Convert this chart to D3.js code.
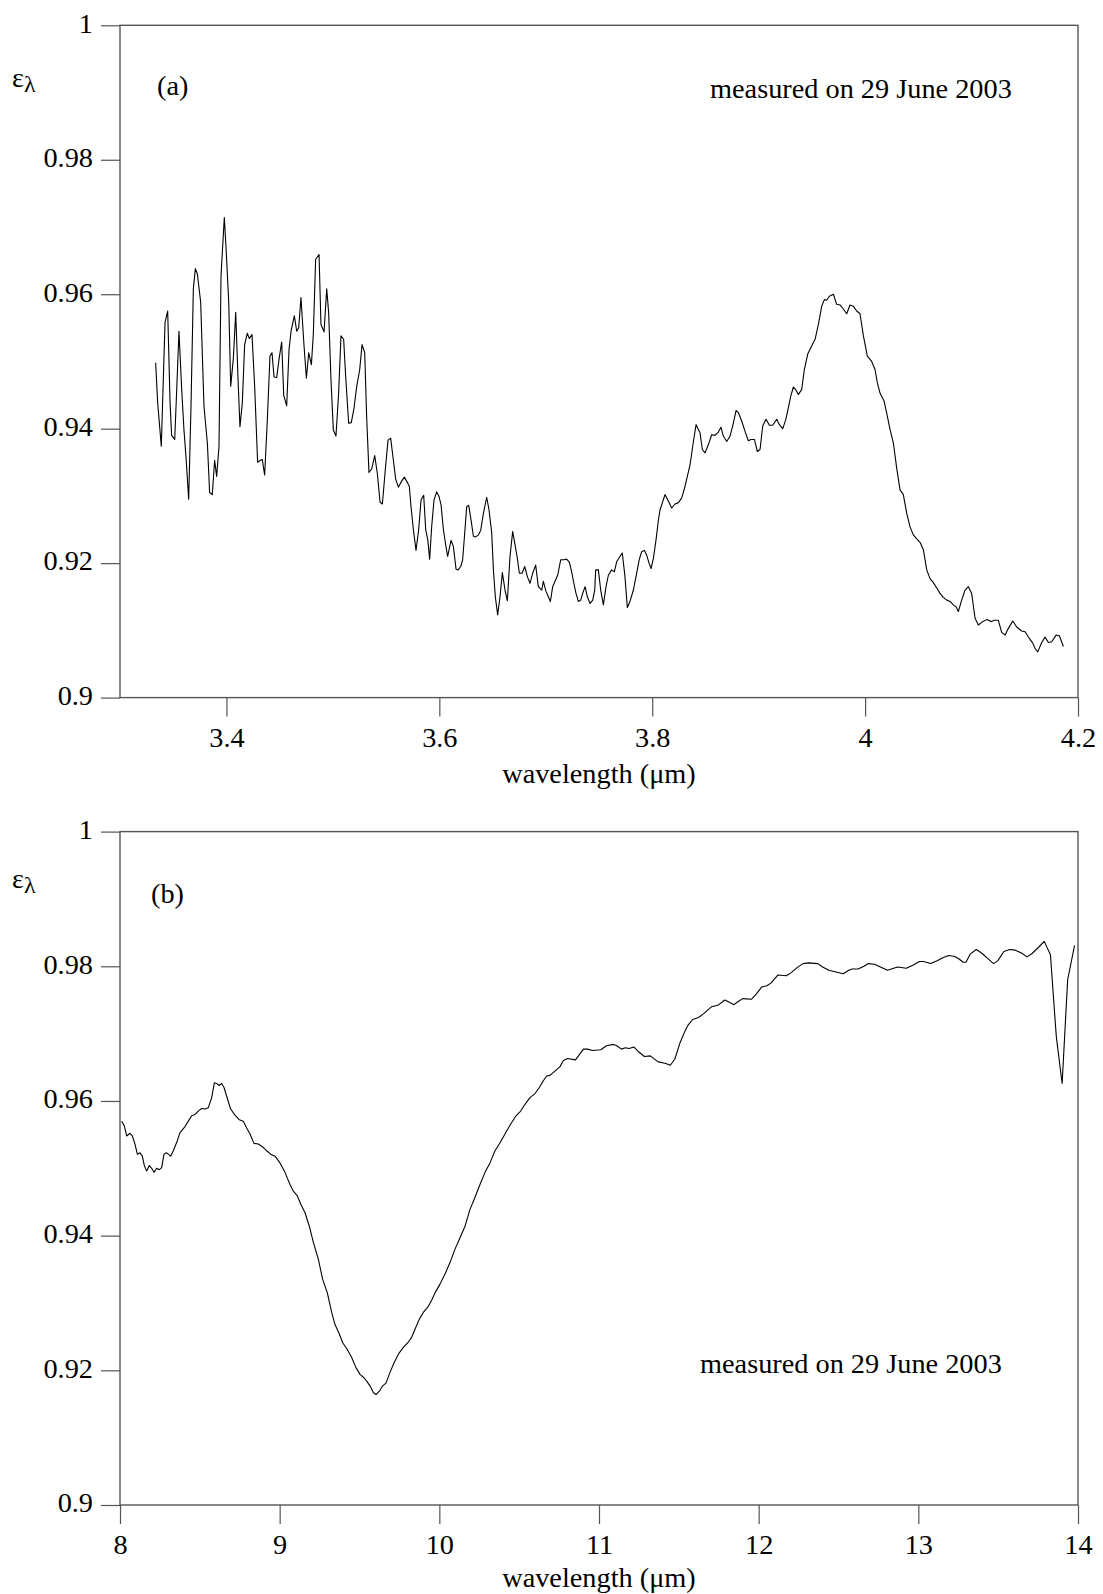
<!DOCTYPE html>
<html>
<head>
<meta charset="utf-8">
<script src="https://cdn.jsdelivr.net/npm/d3@7"></script>
<style>
  html, body { margin: 0; padding: 0; background: #fff; }
  svg { display: block; }
  text { font-family: "Liberation Serif", "Times New Roman", serif; fill: #000; }
</style>
</head>
<body>
<svg id="chart" width="1103" height="1594"></svg>
<script>
// ---------- data ----------
const yTicks = [0.9, 0.92, 0.94, 0.96, 0.98, 1];
const yTickLabels = ["0.9", "0.92", "0.94", "0.96", "0.98", "1"];
const xTicksA = [3.4, 3.6, 3.8, 4.0, 4.2];
const xTickLabelsA = ["3.4", "3.6", "3.8", "4", "4.2"];
const xTicksB = [8, 9, 10, 11, 12, 13, 14];
const xTickLabelsB = ["8", "9", "10", "11", "12", "13", "14"];
const xDomainA = [3.3, 4.2];
const xDomainB = [8, 14];
const yDomain = [0.9, 1];
const panelLabels = ["(a)", "(b)"];
const noteText = "measured on 29 June 2003";
const xTitle = "wavelength (\u03bcm)";

// panel (a): 3-4 um band emissivity [wavelength, emissivity]
const spectrumA = [
[3.3335,0.9498],[3.3354,0.9438],[3.3388,0.9374],[3.3423,0.9558],[3.3448,0.9575],[3.3470,0.9440],[3.3485,0.9390],[3.3514,0.9384],[3.3532,0.9455],[3.3554,0.9545],
[3.3579,0.9460],[3.3601,0.9398],[3.3620,0.9358],[3.3645,0.9295],[3.3667,0.9433],[3.3689,0.9608],[3.3708,0.9638],[3.3727,0.9630],[3.3758,0.9588],[3.3789,0.9433],
[3.3821,0.9378],[3.3842,0.9305],[3.3867,0.9302],[3.3889,0.9353],[3.3908,0.9329],[3.3930,0.9373],[3.3949,0.9628],[3.3980,0.9714],[3.3996,0.9670],[3.4021,0.9590],
[3.4040,0.9463],[3.4065,0.9505],[3.4087,0.9573],[3.4109,0.9473],[3.4127,0.9403],[3.4149,0.9438],[3.4171,0.9525],[3.4196,0.9542],[3.4215,0.9534],[3.4240,0.9540],
[3.4265,0.9463],[3.4293,0.9350],[3.4318,0.9353],[3.4337,0.9354],[3.4359,0.9331],[3.4384,0.9413],[3.4409,0.9508],[3.4428,0.9513],[3.4447,0.9477],[3.4472,0.9476],
[3.4494,0.9503],[3.4519,0.9529],[3.4538,0.9450],[3.4566,0.9434],[3.4588,0.9518],[3.4607,0.9545],[3.4638,0.9568],[3.4660,0.9545],[3.4679,0.9550],[3.4700,0.9595],
[3.4729,0.9523],[3.4751,0.9475],[3.4773,0.9513],[3.4798,0.9495],[3.4816,0.9540],[3.4838,0.9652],[3.4870,0.9659],[3.4888,0.9555],[3.4917,0.9544],[3.4942,0.9608],
[3.4960,0.9573],[3.4982,0.9473],[3.5004,0.9398],[3.5029,0.9389],[3.5054,0.9453],[3.5076,0.9538],[3.5101,0.9533],[3.5120,0.9478],[3.5148,0.9408],[3.5173,0.9409],
[3.5198,0.9430],[3.5224,0.9463],[3.5252,0.9488],[3.5274,0.9525],[3.5299,0.9513],[3.5317,0.9418],[3.5339,0.9335],[3.5364,0.9340],[3.5393,0.9360],[3.5418,0.9333],
[3.5443,0.9291],[3.5465,0.9288],[3.5493,0.9340],[3.5518,0.9383],[3.5543,0.9386],[3.5568,0.9353],[3.5590,0.9325],[3.5615,0.9313],
[3.5646,0.9322],[3.5671,0.9328],[3.5703,0.9319],[3.5718,0.9314],[3.5734,0.9284],[3.5756,0.9250],[3.5781,0.9219],[3.5806,0.9250],[3.5828,0.9294],[3.5853,0.9301],
[3.5872,0.9250],[3.5891,0.9235],[3.5909,0.9206],[3.5928,0.9254],[3.5950,0.9294],[3.5975,0.9306],[3.5997,0.9299],[3.6016,0.9287],[3.6038,0.9250],[3.6060,0.9227],
[3.6078,0.9210],[3.6094,0.9222],[3.6110,0.9234],[3.6132,0.9225],[3.6157,0.9191],[3.6176,0.9190],[3.6201,0.9195],[3.6219,0.9205],[3.6241,0.9250],[3.6257,0.9284],
[3.6276,0.9286],[3.6298,0.9264],[3.6320,0.9240],[3.6342,0.9239],[3.6367,0.9242],[3.6389,0.9249],[3.6414,0.9274],[3.6445,0.9298],[3.6467,0.9279],[3.6492,0.9245],
[3.6508,0.9190],[3.6526,0.9150],[3.6548,0.9123],[3.6570,0.9150],[3.6592,0.9186],[3.6617,0.9160],[3.6639,0.9144],[3.6664,0.9210],[3.6689,0.9247],[3.6714,0.9225],
[3.6733,0.9207],[3.6752,0.9185],[3.6777,0.9185],[3.6802,0.9195],[3.6827,0.9180],[3.6852,0.9170],[3.6877,0.9185],[3.6905,0.9197],[3.6930,0.9165],[3.6962,0.9160],
[3.6977,0.9173],[3.7002,0.9158],[3.7024,0.9150],[3.7043,0.9143],[3.7065,0.9165],[3.7087,0.9173],[3.7112,0.9182],[3.7140,0.9205],[3.7171,0.9205],[3.7196,0.9206],
[3.7222,0.9201],[3.7243,0.9187],[3.7265,0.9169],[3.7284,0.9155],[3.7306,0.9143],[3.7328,0.9145],[3.7347,0.9155],[3.7369,0.9165],[3.7391,0.9150],[3.7416,0.9140],
[3.7441,0.9145],[3.7460,0.9160],[3.7469,0.9190],[3.7494,0.9190],[3.7516,0.9160],[3.7541,0.9138],[3.7566,0.9165],[3.7588,0.9182],[3.7619,0.9190],[3.7644,0.9187],
[3.7666,0.9202],[3.7697,0.9210],[3.7719,0.9215],[3.7744,0.9180],[3.7766,0.9134],[3.7791,0.9143],[3.7823,0.9160],[3.7854,0.9185],[3.7879,0.9206],[3.7901,0.9217],
[3.7926,0.9219],[3.7948,0.9212],[3.7970,0.9200],[3.7989,0.9192],[3.8011,0.9207],[3.8036,0.9235],[3.8058,0.9264],[3.8073,0.9279],
[3.8120,0.9302],[3.8152,0.9292],[3.8183,0.9282],[3.8214,0.9288],[3.8246,0.9290],[3.8277,0.9297],[3.8308,0.9314],[3.8355,0.9346],[3.8387,0.9381],[3.8412,0.9406],
[3.8449,0.9394],[3.8471,0.9369],[3.8496,0.9364],[3.8527,0.9376],[3.8559,0.9391],[3.8590,0.9390],[3.8621,0.9395],[3.8646,0.9402],[3.8668,0.9389],[3.8700,0.9381],
[3.8731,0.9389],[3.8762,0.9408],[3.8787,0.9427],[3.8809,0.9424],[3.8841,0.9411],[3.8872,0.9396],[3.8903,0.9382],[3.8928,0.9384],[3.8960,0.9384],[3.8988,0.9366],
[3.9013,0.9369],[3.9038,0.9404],[3.9069,0.9414],[3.9101,0.9405],[3.9132,0.9405],[3.9169,0.9414],[3.9195,0.9406],[3.9226,0.9400],[3.9254,0.9413],[3.9279,0.9431],
[3.9301,0.9448],[3.9326,0.9462],[3.9348,0.9458],[3.9373,0.9451],[3.9404,0.9458],[3.9429,0.9488],[3.9461,0.9511],[3.9492,0.9521],[3.9530,0.9533],[3.9561,0.9555],
[3.9592,0.9582],[3.9617,0.9592],[3.9639,0.9591],[3.9664,0.9597],[3.9702,0.9600],[3.9733,0.9585],[3.9764,0.9584],[3.9796,0.9578],[3.9827,0.9571],[3.9858,0.9584],
[3.9890,0.9582],[3.9921,0.9575],[3.9952,0.9571],[3.9984,0.9538],[4.0021,0.9508],[4.0062,0.9500],[4.0093,0.9488],[4.0115,0.9468],[4.0140,0.9453],[4.0178,0.9441],
[4.0203,0.9423],[4.0234,0.9399],[4.0265,0.9379],[4.0297,0.9341],[4.0328,0.9309],[4.0359,0.9302],[4.0391,0.9274],[4.0422,0.9254],[4.0453,0.9242],[4.0485,0.9236],
[4.0516,0.9231],[4.0547,0.9220],[4.0579,0.9190],[4.0610,0.9177],[4.0641,0.9171],[4.0673,0.9163],[4.0704,0.9155],[4.0735,0.9149],[4.0767,0.9145],[4.0798,0.9143],
[4.0829,0.9138],[4.0854,0.9135],[4.0876,0.9128],[4.0907,0.9145],[4.0939,0.9160],[4.0970,0.9165],[4.1001,0.9155],[4.1033,0.9118],[4.1064,0.9108],[4.1095,0.9112],
[4.1142,0.9116],[4.1189,0.9113],[4.1211,0.9115],[4.1252,0.9115],[4.1283,0.9097],[4.1315,0.9093],[4.1346,0.9103],[4.1387,0.9114],[4.1424,0.9105],[4.1471,0.9099],
[4.1503,0.9098],[4.1543,0.9088],[4.1575,0.9081],[4.1597,0.9073],[4.1622,0.9068],[4.1659,0.9082],[4.1691,0.9090],[4.1722,0.9082],[4.1753,0.9083],[4.1794,0.9093],
[4.1825,0.9092],[4.1863,0.9076]
];

// panel (b): 8-14 um band emissivity [wavelength, emissivity]
const spectrumB = [
[8.0104,0.9570],[8.0271,0.9563],[8.0418,0.9548],[8.0626,0.9552],[8.0772,0.9548],[8.0939,0.9536],[8.1086,0.9521],[8.1253,0.9523],[8.1399,0.9518],[8.1524,0.9504],
[8.1670,0.9496],[8.1837,0.9504],[8.1983,0.9500],[8.2129,0.9494],[8.2297,0.9500],[8.2463,0.9498],[8.2610,0.9501],[8.2756,0.9521],[8.2923,0.9523],[8.3173,0.9518],
[8.3340,0.9526],[8.3591,0.9541],[8.3758,0.9553],[8.4071,0.9562],[8.4280,0.9570],[8.4489,0.9578],[8.4697,0.9580],[8.4906,0.9585],[8.5115,0.9589],[8.5324,0.9588],
[8.5532,0.9590],[8.5741,0.9605],[8.5908,0.9627],[8.6054,0.9626],[8.6200,0.9623],[8.6367,0.9626],[8.6514,0.9620],[8.6681,0.9607],[8.6931,0.9588],[8.7202,0.9579],
[8.7474,0.9572],[8.7724,0.9570],[8.7933,0.9560],[8.8142,0.9551],[8.8392,0.9537],[8.8664,0.9536],[8.8977,0.9531],[8.9186,0.9526],[8.9436,0.9521],[8.9708,0.9518],
[9.0021,0.9508],[9.0334,0.9494],[9.0647,0.9476],[9.0856,0.9466],[9.1106,0.9459],[9.1315,0.9447],[9.1587,0.9434],[9.1858,0.9414],[9.2109,0.9390],[9.2422,0.9365],
[9.2693,0.9335],[9.2985,0.9315],[9.3257,0.9286],[9.3466,0.9268],[9.3737,0.9254],[9.3946,0.9241],[9.4238,0.9231],[9.4510,0.9219],[9.4781,0.9204],[9.5031,0.9194],
[9.5282,0.9189],[9.5449,0.9184],[9.5658,0.9177],[9.5866,0.9167],[9.6033,0.9164],[9.6242,0.9169],[9.6451,0.9177],[9.6659,0.9181],[9.6910,0.9197],[9.7160,0.9211],
[9.7432,0.9224],[9.7745,0.9234],[9.8058,0.9242],[9.8267,0.9249],[9.8476,0.9261],[9.8747,0.9276],[9.8998,0.9286],[9.9311,0.9295],[9.9520,0.9304],[9.9728,0.9315],
[10.0042,0.9328],[10.0355,0.9343],[10.0668,0.9360],[10.0981,0.9380],[10.1294,0.9397],[10.1608,0.9414],[10.1921,0.9439],[10.2234,0.9457],[10.2547,0.9476],[10.2860,0.9494],
[10.3173,0.9508],[10.3487,0.9526],[10.3800,0.9538],[10.4113,0.9551],[10.4426,0.9564],[10.4802,0.9578],[10.5094,0.9585],[10.5365,0.9595],[10.5678,0.9605],[10.5991,0.9611],
[10.6263,0.9620],[10.6513,0.9630],[10.6722,0.9637],[10.6930,0.9638],[10.7557,0.9651],[10.7773,0.9660],[10.8032,0.9663],[10.8528,0.9661],[10.9025,0.9677],[10.9284,0.9677],
[10.9608,0.9675],[11.0104,0.9676],[11.0471,0.9682],[11.0903,0.9684],[11.1119,0.9682],[11.1399,0.9677],[11.1658,0.9679],[11.1874,0.9678],[11.2198,0.9680],[11.2478,0.9673],
[11.2845,0.9666],[11.3212,0.9667],[11.3709,0.9658],[11.4141,0.9656],[11.4464,0.9653],[11.4745,0.9662],[11.5069,0.9686],[11.5371,0.9703],[11.5587,0.9713],[11.5867,0.9721],
[11.6234,0.9724],[11.6580,0.9730],[11.7054,0.9740],[11.7443,0.9742],[11.7875,0.9750],[11.8134,0.9747],[11.8457,0.9743],[11.8673,0.9747],[11.8997,0.9752],[11.9537,0.9751],
[11.9860,0.9759],[12.0184,0.9769],[12.0508,0.9771],[12.0767,0.9775],[12.1199,0.9787],[12.1738,0.9786],[12.2062,0.9791],[12.2408,0.9798],[12.2775,0.9804],[12.3141,0.9805],
[12.3703,0.9804],[12.4005,0.9799],[12.4393,0.9794],[12.4782,0.9792],[12.5300,0.9789],[12.5646,0.9794],[12.5861,0.9796],[12.6228,0.9796],[12.6595,0.9800],[12.6876,0.9804],
[12.7243,0.9803],[12.7631,0.9799],[12.8063,0.9794],[12.8451,0.9797],[12.8710,0.9799],[12.9250,0.9797],[12.9682,0.9802],[13.0070,0.9807],[13.0329,0.9807],[13.0761,0.9804],
[13.1150,0.9808],[13.1560,0.9813],[13.1905,0.9816],[13.2229,0.9815],[13.2488,0.9812],[13.2812,0.9806],[13.2984,0.9806],[13.3243,0.9818],[13.3632,0.9825],[13.3999,0.9819],
[13.4322,0.9812],[13.4711,0.9804],[13.4970,0.9808],[13.5358,0.9822],[13.5725,0.9825],[13.6049,0.9824],[13.6438,0.9820],[13.6805,0.9814],[13.7128,0.9819],[13.7560,0.9829],
[13.7884,0.9837],[13.8273,0.9817],[13.8640,0.9696],[13.9006,0.9626],[13.9352,0.9780],[13.9784,0.9831]
];

// ---------- drawing ----------
const svg = d3.select("#chart");
const FONT = 28.3;
const frameColor = "#555";

const panels = [
  { data: spectrumA, xDomain: xDomainA, xTicks: xTicksA, xLabels: xTickLabelsA,
    left: 120, right: 1078, top: 25.3, bottom: 697.6,
    epsX: 12, epsY: 87, labX: 157, labY: 95, noteX: 710, noteY: 98, titleY: 783 },
  { data: spectrumB, xDomain: xDomainB, xTicks: xTicksB, xLabels: xTickLabelsB,
    left: 120, right: 1078, top: 831.6, bottom: 1505,
    epsX: 12, epsY: 888, labX: 151, labY: 903, noteX: 700, noteY: 1373, titleY: 1587 }
];

panels.forEach((p, i) => {
  const x = d3.scaleLinear().domain(p.xDomain).range([p.left, p.right]);
  const y = d3.scaleLinear().domain(yDomain).range([p.bottom, p.top]);
  const g = svg.append("g");

  // y axis
  const yAxis = d3.axisLeft(y).tickValues(yTicks)
    .tickFormat((d, k) => yTickLabels[k]).tickSize(19).tickPadding(8);
  const ya = g.append("g").attr("transform", `translate(${p.left},0)`).call(yAxis)
    .attr("font-family", null).attr("font-size", null);
  ya.select(".domain").remove();
  ya.selectAll(".tick line").attr("stroke", frameColor).attr("stroke-width", 1.2);
  ya.selectAll(".tick text").attr("font-size", FONT).attr("dy", "0.24em")
    .style("font-family", '"Liberation Serif", serif').attr("fill", "#000");

  // x axis
  const xAxis = d3.axisBottom(x).tickValues(p.xTicks)
    .tickFormat((d, k) => p.xLabels[k]).tickSize(19).tickPadding(10);
  const xa = g.append("g").attr("transform", `translate(0,${p.bottom})`).call(xAxis)
    .attr("font-family", null).attr("font-size", null);
  xa.select(".domain").remove();
  xa.selectAll(".tick line").attr("stroke", frameColor).attr("stroke-width", 1.2);
  xa.selectAll(".tick text").attr("font-size", FONT)
    .style("font-family", '"Liberation Serif", serif').attr("fill", "#000");

  // frame
  g.append("rect")
    .attr("x", p.left).attr("y", p.top)
    .attr("width", p.right - p.left).attr("height", p.bottom - p.top)
    .attr("fill", "none").attr("stroke", frameColor).attr("stroke-width", 1.4);

  // data line
  const line = d3.line().x(d => x(d[0])).y(d => y(d[1]));
  g.append("path").datum(p.data)
    .attr("d", line).attr("fill", "none")
    .attr("stroke", "#000").attr("stroke-width", 1.1)
    .attr("stroke-linejoin", "round");

  // axis title
  g.append("text").attr("x", (p.left + p.right) / 2).attr("y", p.titleY)
    .attr("text-anchor", "middle").attr("font-size", FONT).text(xTitle);

  // epsilon label
  const eps = g.append("text").attr("x", p.epsX).attr("y", p.epsY).attr("font-size", FONT);
  eps.append("tspan").text("\u03b5");
  eps.append("tspan").attr("font-size", 24).attr("dy", 5).text("\u03bb");

  // panel letter
  g.append("text").attr("x", p.labX).attr("y", p.labY).attr("font-size", FONT).text(panelLabels[i]);

  // note
  g.append("text").attr("x", p.noteX).attr("y", p.noteY).attr("font-size", FONT).text(noteText);
});
</script>
</body>
</html>
